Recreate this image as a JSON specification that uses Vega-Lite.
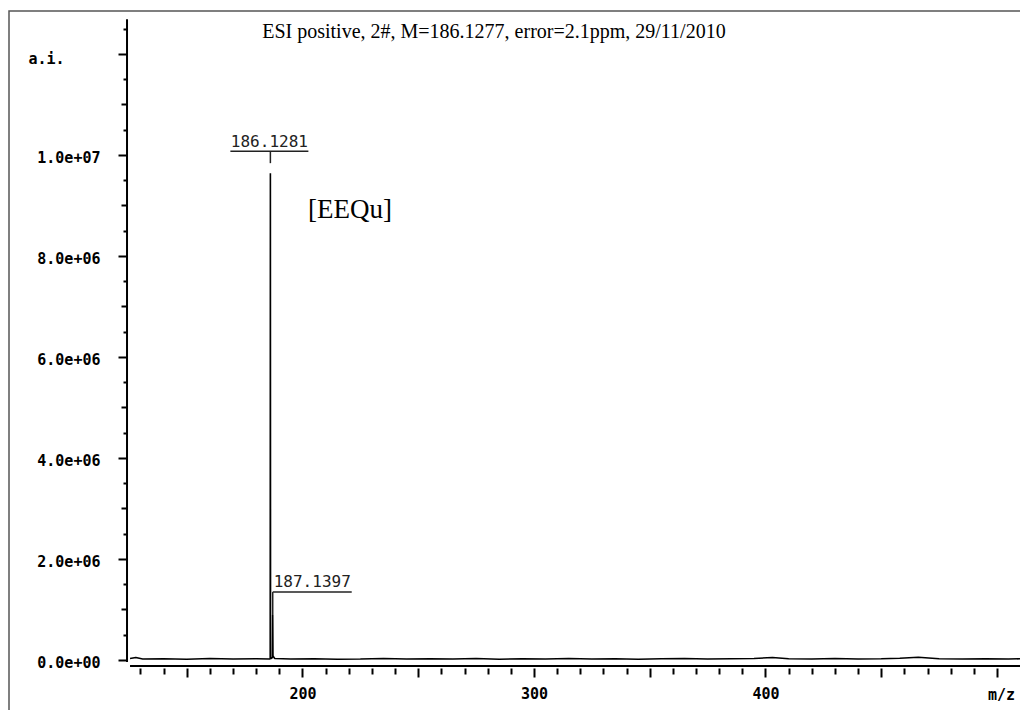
{
  "$schema": "https://vega.github.io/schema/vega-lite/v6.json",
  "width": 1013,
  "height": 701,
  "autosize": {"type": "none"},
  "padding": {"left": 9, "top": 11, "right": 0, "bottom": 0},
  "background": "white",
  "config": {"view": {"stroke": "#555555", "strokeWidth": 1.5}},
  "datasets": {
    "spectrum": [
      {"mz": 125.5, "intensity": 30000},
      {"mz": 128, "intensity": 50000},
      {"mz": 131, "intensity": 20000},
      {"mz": 140, "intensity": 25000},
      {"mz": 150, "intensity": 15000},
      {"mz": 160, "intensity": 30000},
      {"mz": 170, "intensity": 20000},
      {"mz": 180, "intensity": 25000},
      {"mz": 185.9, "intensity": 20000},
      {"mz": 186.05, "intensity": 30000},
      {"mz": 186.1281, "intensity": 9640000},
      {"mz": 186.2, "intensity": 40000},
      {"mz": 186.6, "intensity": 30000},
      {"mz": 187.05, "intensity": 60000},
      {"mz": 187.1397, "intensity": 890000},
      {"mz": 187.25, "intensity": 80000},
      {"mz": 188, "intensity": 30000},
      {"mz": 195, "intensity": 20000},
      {"mz": 205, "intensity": 25000},
      {"mz": 215, "intensity": 15000},
      {"mz": 225, "intensity": 20000},
      {"mz": 235, "intensity": 30000},
      {"mz": 245, "intensity": 20000},
      {"mz": 255, "intensity": 25000},
      {"mz": 265, "intensity": 20000},
      {"mz": 275, "intensity": 30000},
      {"mz": 285, "intensity": 15000},
      {"mz": 295, "intensity": 25000},
      {"mz": 305, "intensity": 20000},
      {"mz": 315, "intensity": 30000},
      {"mz": 325, "intensity": 20000},
      {"mz": 335, "intensity": 25000},
      {"mz": 345, "intensity": 15000},
      {"mz": 355, "intensity": 25000},
      {"mz": 365, "intensity": 30000},
      {"mz": 375, "intensity": 20000},
      {"mz": 385, "intensity": 25000},
      {"mz": 395, "intensity": 30000},
      {"mz": 403, "intensity": 50000},
      {"mz": 410, "intensity": 25000},
      {"mz": 420, "intensity": 20000},
      {"mz": 430, "intensity": 30000},
      {"mz": 440, "intensity": 20000},
      {"mz": 450, "intensity": 25000},
      {"mz": 458, "intensity": 35000},
      {"mz": 466, "intensity": 55000},
      {"mz": 475, "intensity": 25000},
      {"mz": 485, "intensity": 20000},
      {"mz": 495, "intensity": 25000},
      {"mz": 505, "intensity": 20000},
      {"mz": 510, "intensity": 25000}
    ],
    "peaks": [
      {"mz": 186.1281, "intensity": 9640000, "label": "186.1281"},
      {"mz": 187.1397, "intensity": 890000, "label": "187.1397"}
    ],
    "one": [{"id": 1}]
  },
  "layer": [
    {
      "data": {"name": "spectrum"},
      "mark": {"type": "line", "color": "black", "strokeWidth": 1.6, "strokeJoin": "bevel"},
      "encoding": {
        "x": {
          "field": "mz", "type": "quantitative",
          "scale": {"domain": [73.22, 510.8], "zero": false, "nice": false},
          "axis": {
            "orient": "bottom", "offset": -44, "domain": false, "grid": false, "tickCount": 200,
            "values": [130,140,150,160,170,180,190,200,210,220,230,240,250,260,270,280,290,300,310,320,330,340,350,360,370,380,390,400,410,420,430,440,450,460,470,480,490,500],
            "tickColor": "black", "tickWidth": 2,
            "tickSize": {"condition": [{"test": "datum.value % 50 == 0", "value": 9}], "value": 6},
            "labelExpr": "(datum.value == 200 || datum.value == 300 || datum.value == 400) ? datum.label : ''",
            "labelFont": "DejaVu Sans Mono", "labelFontWeight": "bold", "labelFontSize": 15, "labelColor": "black",
            "labelPadding": 9, "labelFlush": false, "labelOverlap": false, "labelBaseline": "top",
            "title": "m/z", "titleX": 992, "titleY": 31, "titleAlign": "center", "titleBaseline": "alphabetic",
            "titleFont": "DejaVu Sans Mono", "titleFontWeight": "bold", "titleFontSize": 15, "titleColor": "black"
          }
        },
        "y": {
          "field": "intensity", "type": "quantitative",
          "scale": {"domain": [-1029700, 12851000], "zero": false, "nice": false},
          "axis": {
            "orient": "left", "offset": -118, "domain": false, "grid": false, "tickCount": 200,
            "values": [0,500000,1000000,1500000,2000000,2500000,3000000,3500000,4000000,4500000,5000000,5500000,6000000,6500000,7000000,7500000,8000000,8500000,9000000,9500000,10000000,10500000,11000000,11500000,12000000,12500000],
            "tickColor": "black", "tickWidth": 2,
            "tickSize": {"condition": [{"test": "datum.value % 2000000 == 0", "value": 9}, {"test": "datum.value % 1000000 == 0", "value": 6}], "value": 4},
            "labelExpr": "datum.value % 2000000 == 0 && datum.value <= 10000000 ? replace(format(datum.value, '.1e'), 'e+', 'e+0') : ''",
            "labelFont": "DejaVu Sans Mono", "labelFontWeight": "bold", "labelFontSize": 15, "labelColor": "black",
            "labelPadding": 18, "labelFlush": false, "labelOverlap": false, "labelOffset": 3,
            "title": "a.i.", "titleAngle": 0, "titleX": -99, "titleY": 52, "titleAlign": "left", "titleBaseline": "alphabetic",
            "titleFont": "DejaVu Sans Mono", "titleFontWeight": "bold", "titleFontSize": 15, "titleColor": "black"
          }
        }
      }
    },
    {
      "data": {"name": "one"},
      "mark": {"type": "rule", "color": "black", "strokeWidth": 2},
      "encoding": {
        "x": {"datum": 124.2, "type": "quantitative"},
        "y": {"datum": 12690000, "type": "quantitative"},
        "y2": {"datum": -40000}
      }
    },
    {
      "data": {"name": "one"},
      "mark": {"type": "rule", "color": "black", "strokeWidth": 2},
      "encoding": {
        "x": {"datum": 125.5, "type": "quantitative"},
        "x2": {"datum": 510.8},
        "y": {"datum": -119000, "type": "quantitative"}
      }
    },
    {
      "data": {"name": "peaks"},
      "transform": [{"filter": "datum.label == '186.1281'"}],
      "layer": [
        {
          "mark": {"type": "rule", "color": "#222222", "strokeWidth": 1.5, "xOffset": -40, "x2Offset": 38, "yOffset": -22, "y2Offset": -22},
          "encoding": {
            "x": {"field": "mz", "type": "quantitative"},
            "x2": {"field": "mz"},
            "y": {"field": "intensity", "type": "quantitative"},
            "y2": {"field": "intensity"}
          }
        },
        {
          "mark": {"type": "rule", "color": "#222222", "strokeWidth": 1.5, "yOffset": -22, "y2Offset": -10},
          "encoding": {
            "x": {"field": "mz", "type": "quantitative"},
            "y": {"field": "intensity", "type": "quantitative"},
            "y2": {"field": "intensity"}
          }
        },
        {
          "mark": {"type": "text", "align": "center", "baseline": "alphabetic", "xOffset": -1, "yOffset": -26, "font": "DejaVu Sans Mono", "fontSize": 16, "color": "#222222"},
          "encoding": {
            "x": {"field": "mz", "type": "quantitative"},
            "y": {"field": "intensity", "type": "quantitative"},
            "text": {"field": "label"}
          }
        }
      ]
    },
    {
      "data": {"name": "peaks"},
      "transform": [{"filter": "datum.label == '187.1397'"}],
      "layer": [
        {
          "mark": {"type": "rule", "color": "#222222", "strokeWidth": 1.5, "xOffset": 0, "x2Offset": 79, "yOffset": -23, "y2Offset": -23},
          "encoding": {
            "x": {"field": "mz", "type": "quantitative"},
            "x2": {"field": "mz"},
            "y": {"field": "intensity", "type": "quantitative"},
            "y2": {"field": "intensity"}
          }
        },
        {
          "mark": {"type": "rule", "color": "#222222", "strokeWidth": 1.5, "yOffset": -23, "y2Offset": 0},
          "encoding": {
            "x": {"field": "mz", "type": "quantitative"},
            "y": {"field": "intensity", "type": "quantitative"},
            "y2": {"field": "intensity"}
          }
        },
        {
          "mark": {"type": "text", "align": "left", "baseline": "alphabetic", "xOffset": 1, "yOffset": -28, "font": "DejaVu Sans Mono", "fontSize": 16, "color": "#222222"},
          "encoding": {
            "x": {"field": "mz", "type": "quantitative"},
            "y": {"field": "intensity", "type": "quantitative"},
            "text": {"field": "label"}
          }
        }
      ]
    },
    {
      "data": {"name": "one"},
      "mark": {"type": "text", "align": "left", "baseline": "alphabetic", "font": "Liberation Serif", "fontSize": 27, "color": "black"},
      "encoding": {
        "x": {"datum": 202.4, "type": "quantitative"},
        "y": {"datum": 8750000, "type": "quantitative"},
        "text": {"value": "[EEQu]"}
      }
    },
    {
      "data": {"name": "one"},
      "mark": {"type": "text", "align": "center", "baseline": "alphabetic", "font": "Liberation Serif", "fontSize": 20, "color": "black"},
      "encoding": {
        "x": {"datum": 282.7, "type": "quantitative"},
        "y": {"datum": 12317000, "type": "quantitative"},
        "text": {"value": "ESI positive, 2#, M=186.1277, error=2.1ppm, 29/11/2010"}
      }
    }
  ]
}
